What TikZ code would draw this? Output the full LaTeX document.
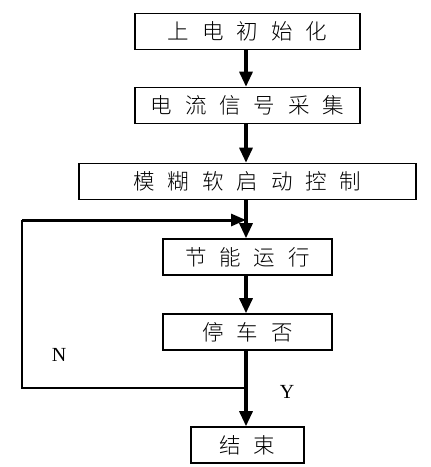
\documentclass[tikz,border=0pt]{standalone}
\usepackage{fontspec}
\setmainfont{Liberation Serif}
\newfontfamily\cjk{Noto Sans CJK SC Light}
\usetikzlibrary{arrows.meta}
\newcommand{\gp}{\hspace{0.6em}}
\tikzset{
  stepbox/.style={draw, line width=1.6pt, minimum height=36pt, inner sep=0pt,
    font=\cjk\fontsize{21.5}{24}\selectfont},
  flow/.style={line width=3.2pt, -{Triangle[length=15pt,width=13pt]}},
  loopline/.style={line width=2.4pt},
  lbl/.style={font=\fontsize{20}{24}\selectfont}
}
\begin{document}
\begin{tikzpicture}[x=1pt,y=-1pt]
\useasboundingbox (0,0) rectangle (431,467);
\node[stepbox, minimum width=225pt] (b1) at (247.5,31.5) {上\gp 电\gp 初\gp 始\gp 化};
\node[stepbox, minimum width=225pt] (b2) at (247.5,105.5) {电\gp 流\gp 信\gp 号\gp 采\gp 集};
\node[stepbox, minimum width=337pt] (b3) at (247.5,181.5) {模\gp 糊\gp 软\gp 启\gp 动\gp 控\gp 制};
\node[stepbox, minimum width=169pt] (b4) at (247.5,257) {节\gp 能\gp 运\gp 行};
\node[stepbox, minimum width=169pt] (b5) at (247.5,332) {停\gp 车\gp 否};
\node[stepbox, minimum width=113pt] (b6) at (247.5,445) {结\gp 束};
\coordinate (j) at (246,388);
\coordinate (l1) at (22,388);
\coordinate (l2) at (22,220);
\coordinate (m) at (246,220);
\draw[flow] (b1.south -| 246,0) -- (b2.north -| 246,0);
\draw[flow] (b2.south -| 246,0) -- (b3.north -| 246,0);
\draw[flow] (b3.south -| 246,0) -- (b4.north -| 246,0);
\draw[flow] (b4.south -| 246,0) -- (b5.north -| 246,0);
\draw[flow] (b5.south -| 246,0) -- (b6.north -| 246,0);
\draw[loopline] (j) -- (l1) -- (l2);
\draw[line width=3pt, -{Triangle[length=15pt,width=12pt]}] (l2) -- (m);
\node[lbl] (n) at (59,355) {N};
\node[lbl] (y) at (287,392) {Y};
\end{tikzpicture}
\end{document}
